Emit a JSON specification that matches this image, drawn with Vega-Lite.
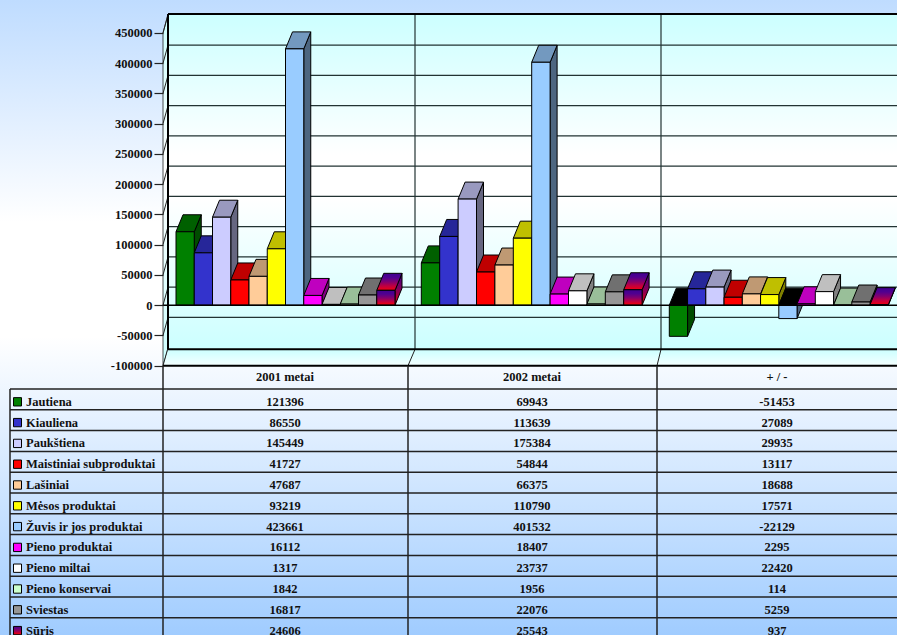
{
"$schema":"https://vega.github.io/schema/vega-lite/v6.json",
"width":897,"height":635,"padding":0,
"autosize":{"type":"none"},
"background":"#ffffff",
"view":{"stroke":null,"fill":{"gradient":"linear","x1":0,"y1":0,"x2":0,"y2":1,"stops":[{"offset":0,"color":"#bfdcff"},{"offset":0.35,"color":"#ffffff"},{"offset":0.53,"color":"#ffffff"},{"offset":1,"color":"#a0ccff"}]}},
"config":{"text":{"font":"Liberation Serif","fontWeight":"bold","fontSize":12.5,"color":"#111111"}},
"resolve":{"scale":{"fill":"independent"}},
"datasets":{
"rows":[
{"product":"Jautiena","column":"2001 metai","value":121396},{"product":"Kiauliena","column":"2001 metai","value":86550},{"product":"Paukštiena","column":"2001 metai","value":145449},{"product":"Maistiniai subproduktai","column":"2001 metai","value":41727},{"product":"Lašiniai","column":"2001 metai","value":47687},{"product":"Mėsos produktai","column":"2001 metai","value":93219},{"product":"Žuvis ir jos produktai","column":"2001 metai","value":423661},{"product":"Pieno produktai","column":"2001 metai","value":16112},{"product":"Pieno miltai","column":"2001 metai","value":1317},{"product":"Pieno konservai","column":"2001 metai","value":1842},{"product":"Sviestas","column":"2001 metai","value":16817},{"product":"Sūris","column":"2001 metai","value":24606},
{"product":"Jautiena","column":"2002 metai","value":69943},{"product":"Kiauliena","column":"2002 metai","value":113639},{"product":"Paukštiena","column":"2002 metai","value":175384},{"product":"Maistiniai subproduktai","column":"2002 metai","value":54844},{"product":"Lašiniai","column":"2002 metai","value":66375},{"product":"Mėsos produktai","column":"2002 metai","value":110790},{"product":"Žuvis ir jos produktai","column":"2002 metai","value":401532},{"product":"Pieno produktai","column":"2002 metai","value":18407},{"product":"Pieno miltai","column":"2002 metai","value":23737},{"product":"Pieno konservai","column":"2002 metai","value":1956},{"product":"Sviestas","column":"2002 metai","value":22076},{"product":"Sūris","column":"2002 metai","value":25543},
{"product":"Jautiena","column":"+ / -","value":-51453},{"product":"Kiauliena","column":"+ / -","value":27089},{"product":"Paukštiena","column":"+ / -","value":29935},{"product":"Maistiniai subproduktai","column":"+ / -","value":13117},{"product":"Lašiniai","column":"+ / -","value":18688},{"product":"Mėsos produktai","column":"+ / -","value":17571},{"product":"Žuvis ir jos produktai","column":"+ / -","value":-22129},{"product":"Pieno produktai","column":"+ / -","value":2295},{"product":"Pieno miltai","column":"+ / -","value":22420},{"product":"Pieno konservai","column":"+ / -","value":114},{"product":"Sviestas","column":"+ / -","value":5259},{"product":"Sūris","column":"+ / -","value":937}
],
"ticks":[{"tick":-100000},{"tick":-50000},{"tick":0},{"tick":50000},{"tick":100000},{"tick":150000},{"tick":200000},{"tick":250000},{"tick":300000},{"tick":350000},{"tick":400000},{"tick":450000}],
"wall":[{"t":0},{"t":1}]
},
"data":{"name":"rows"},
"transform":[
{"calculate":"indexof(['Jautiena','Kiauliena','Paukštiena','Maistiniai subproduktai','Lašiniai','Mėsos produktai','Žuvis ir jos produktai','Pieno produktai','Pieno miltai','Pieno konservai','Sviestas','Sūris'],datum.product)","as":"pi"},
{"calculate":"indexof(['2001 metai','2002 metai','+ / -'],datum.column)","as":"ci"},
{"calculate":"[18.25,18.4,18.25][datum.ci]","as":"step"},
{"calculate":"[176,421.3,669.3][datum.ci]+datum.pi*datum.step","as":"bx"},
{"calculate":"datum.bx+datum.step","as":"bx2"},
{"calculate":"0","as":"base"},
{"calculate":"datum.column+datum.product","as":"id"},
{"calculate":"(305.2-(401.8+20.8*datum.pi))/0.000605","as":"rowY"},
{"calculate":"datum.rowY+6900","as":"swT"},
{"calculate":"datum.rowY-6900","as":"swB"},
{"calculate":"(305.2-(389+20.8*datum.pi))/0.000605","as":"lineY"},
{"calculate":"[163,408,657][datum.ci]","as":"colLeft"},
{"calculate":"[285,532,777][datum.ci]","as":"colMid"},
{"calculate":"''+datum.value","as":"label"}
],
"layer":[
{"data":{"name":"wall"},"transform":[{"filter":"datum.t==0"}],
 "mark":{"type":"rect","fill":{"gradient":"linear","x1":0,"y1":0,"x2":0,"y2":1,"stops":[{"offset":0,"color":"#ccffff"},{"offset":0.42,"color":"#ffffff"},{"offset":0.55,"color":"#ffffff"},{"offset":1,"color":"#ccffff"}]}},
 "encoding":{"x":{"datum":168,"type":"quantitative","axis":null,"scale":{"domain":[0,897],"nice":false,"zero":false}},"x2":{"datum":897},
 "y":{"datum":481322,"type":"quantitative","scale":{"domain":[-545124,504463],"nice":false,"zero":false},"axis":{"values":[-100000,-50000,0,50000,100000,150000,200000,250000,300000,350000,400000,450000],"offset":-163,"domain":false,"grid":false,"title":null,"tickSize":9,"tickColor":"#222222","tickWidth":1.2,"labelPadding":2,"labelFont":"Liberation Serif","labelFontWeight":"bold","labelFontSize":12.5,"labelColor":"#111111","labelExpr":"''+datum.value","zindex":1}},"y2":{"datum":-73000}}},
{"data":{"name":"wall"},"transform":[{"calculate":"163+5*datum.t","as":"wx"},{"calculate":"-100000+27000*datum.t","as":"w0"},{"calculate":"450000+31322*datum.t","as":"w1"}],
 "mark":{"type":"area","orient":"vertical","stroke":"#222222","strokeWidth":0.8,"fill":{"gradient":"linear","x1":0,"y1":0,"x2":0,"y2":1,"stops":[{"offset":0,"color":"#ccffff"},{"offset":0.45,"color":"#ffffff"},{"offset":1,"color":"#ccffff"}]}},
 "encoding":{"x":{"field":"wx","type":"quantitative"},"y":{"field":"w0","type":"quantitative","stack":null},"y2":{"field":"w1"}}},
{"data":{"name":"wall"},"transform":[{"calculate":"-100000+27000*datum.t","as":"fy"},{"calculate":"163+5*datum.t","as":"fx"}],
 "mark":{"type":"area","orient":"horizontal","fill":{"gradient":"linear","x1":0,"y1":1,"x2":0,"y2":0,"stops":[{"offset":0,"color":"#f4ffff"},{"offset":1,"color":"#ccffff"}]}},
 "encoding":{"y":{"field":"fy","type":"quantitative"},"x":{"field":"fx","type":"quantitative","stack":null},"x2":{"datum":897}}},
{"data":{"name":"ticks"},"transform":[{"filter":"datum.tick<450000 && datum.tick>-100000"},{"calculate":"datum.tick+29752","as":"backY"}],
 "mark":{"type":"rule","stroke":"#223333","strokeWidth":1.2},
 "encoding":{"x":{"datum":168,"type":"quantitative"},"x2":{"datum":897},"y":{"field":"backY","type":"quantitative"}}},
{"data":{"name":"ticks"},"transform":[{"calculate":"[0,1]","as":"t"},{"flatten":["t"]},{"calculate":"163+5*datum.t","as":"dx"},{"calculate":"datum.tick+29752*datum.t","as":"dy"}],
 "mark":{"type":"line","stroke":"#222222","strokeWidth":1},
 "encoding":{"x":{"field":"dx","type":"quantitative"},"y":{"field":"dy","type":"quantitative"},"detail":{"field":"tick"},"order":{"field":"t"}}},
{"transform":[{"filter":"datum.pi==0 && datum.ci>0"},{"calculate":"[0,415,661][datum.ci]","as":"backX"}],
 "mark":{"type":"rule","stroke":"#223333","strokeWidth":1.2},
 "encoding":{"x":{"field":"backX","type":"quantitative"},"y":{"datum":481322,"type":"quantitative"},"y2":{"datum":-73000}}},
{"transform":[{"filter":"datum.pi==0 && datum.ci>0"},{"calculate":"[0,1]","as":"t"},{"flatten":["t"]},{"calculate":"datum.colLeft+[0,7,4][datum.ci]*datum.t","as":"dx"},{"calculate":"-100000+27000*datum.t","as":"dy"}],
 "mark":{"type":"line","stroke":"#222222","strokeWidth":1},
 "encoding":{"x":{"field":"dx","type":"quantitative"},"y":{"field":"dy","type":"quantitative"},"detail":{"field":"ci"},"order":{"field":"t"}}},
{"data":{"name":"wall"},"transform":[{"filter":"datum.t==0"}],"mark":{"type":"rule","stroke":"#000000","strokeWidth":2},
 "encoding":{"x":{"datum":168,"type":"quantitative"},"x2":{"datum":897},"y":{"datum":481322,"type":"quantitative"}}},
{"data":{"name":"wall"},"transform":[{"filter":"datum.t==0"}],"mark":{"type":"rule","stroke":"#000000","strokeWidth":2},
 "encoding":{"x":{"datum":168,"type":"quantitative"},"x2":{"datum":897},"y":{"datum":-73000,"type":"quantitative"}}},
{"data":{"name":"wall"},"transform":[{"filter":"datum.t==0"}],"mark":{"type":"rule","stroke":"#000000","strokeWidth":2},
 "encoding":{"x":{"datum":168,"type":"quantitative"},"y":{"datum":481322,"type":"quantitative"},"y2":{"datum":-73000}}},

{"transform":[{"filter":"datum.pi<11"},
 {"calculate":"[0,1]","as":"t"},{"flatten":["t"]},
 {"calculate":"datum.bx2+7*datum.t","as":"sx"},{"calculate":"max(datum.value,0)+28099*datum.t","as":"s0"},{"calculate":"min(datum.value,0)+28099*datum.t","as":"s1"}],
 "mark":{"type":"area","orient":"vertical","stroke":"#000000","strokeWidth":1},
 "encoding":{"x":{"field":"sx","type":"quantitative"},"y":{"field":"s0","type":"quantitative","stack":null},"y2":{"field":"s1"},"detail":{"field":"id"},
 "fill":{"field":"product","type":"nominal","legend":null,"scale":{"domain":["Jautiena","Kiauliena","Paukštiena","Maistiniai subproduktai","Lašiniai","Mėsos produktai","Žuvis ir jos produktai","Pieno produktai","Pieno miltai","Pieno konservai","Sviestas"],"range":["#004c00","#1a1a66","#666680","#800000","#806650","#808000","#4d6680","#800080","#808080","#668066","#4b4b4b"]}}}},

{"transform":[{"filter":"datum.pi<11"},
 {"calculate":"[0,1]","as":"t"},{"flatten":["t"]},
 {"calculate":"datum.bx+7*datum.t","as":"tx"},{"calculate":"datum.tx+datum.step","as":"tx2"},{"calculate":"max(datum.value,0)+28099*datum.t","as":"ty"}],
 "mark":{"type":"area","orient":"horizontal","stroke":"#000000","strokeWidth":1},
 "encoding":{"y":{"field":"ty","type":"quantitative"},"x":{"field":"tx","type":"quantitative","stack":null},"x2":{"field":"tx2"},"detail":{"field":"id"},
 "fill":{"condition":{"test":"datum.value<0","value":"#000000"},"field":"product","type":"nominal","legend":null,"scale":{"domain":["Jautiena","Kiauliena","Paukštiena","Maistiniai subproduktai","Lašiniai","Mėsos produktai","Žuvis ir jos produktai","Pieno produktai","Pieno miltai","Pieno konservai","Sviestas"],"range":["#006000","#262699","#9999bf","#bf0000","#bf9973","#bfbf00","#7399bf","#bf00bf","#bfbfbf","#99bf99","#707070"]}}}},

{"transform":[{"filter":"datum.pi<11"}],
 "mark":{"type":"rect","stroke":"#000000","strokeWidth":1},
 "encoding":{"x":{"field":"bx","type":"quantitative"},"x2":{"field":"bx2"},"y":{"field":"value","type":"quantitative"},"y2":{"field":"base"},
 "fill":{"field":"product","type":"nominal","legend":null,"scale":{"domain":["Jautiena","Kiauliena","Paukštiena","Maistiniai subproduktai","Lašiniai","Mėsos produktai","Žuvis ir jos produktai","Pieno produktai","Pieno miltai","Pieno konservai","Sviestas"],"range":["#008000","#3333cc","#ccccff","#ff0000","#ffcc99","#ffff00","#99ccff","#ff00ff","#ffffff","#ccffcc","#969696"]}}}},

{"transform":[{"filter":"datum.pi==11"},
 {"calculate":"[0,1]","as":"t"},{"flatten":["t"]},
 {"calculate":"datum.bx2+7*datum.t","as":"sx"},{"calculate":"datum.value+28099*datum.t","as":"s0"},{"calculate":"28099*datum.t","as":"s1"}],
 "mark":{"type":"area","orient":"vertical","stroke":"#000000","strokeWidth":1,"fill":{"gradient":"linear","x1":0,"y1":0,"x2":0,"y2":1,"stops":[{"offset":0,"color":"#400090"},{"offset":0.6,"color":"#900050"},{"offset":1,"color":"#ff0000"}]}},
 "encoding":{"x":{"field":"sx","type":"quantitative"},"y":{"field":"s0","type":"quantitative","stack":null},"y2":{"field":"s1"},"detail":{"field":"column"}}},
{"transform":[{"filter":"datum.pi==11"},
 {"calculate":"[0,1]","as":"t"},{"flatten":["t"]},
 {"calculate":"datum.bx+7*datum.t","as":"tx"},{"calculate":"datum.tx+datum.step","as":"tx2"},{"calculate":"datum.value+28099*datum.t","as":"ty"}],
 "mark":{"type":"area","orient":"horizontal","stroke":"#000000","strokeWidth":1,"fill":{"gradient":"linear","x1":0,"y1":0,"x2":0,"y2":1,"stops":[{"offset":0,"color":"#400090"},{"offset":0.25,"color":"#500090"},{"offset":0.5,"color":"#800070"},{"offset":0.75,"color":"#c00040"},{"offset":1,"color":"#f00010"}]}},
 "encoding":{"y":{"field":"ty","type":"quantitative"},"x":{"field":"tx","type":"quantitative","stack":null},"x2":{"field":"tx2"},"detail":{"field":"column"}}},
{"transform":[{"filter":"datum.pi==11"}],
 "mark":{"type":"rect","stroke":"#000000","strokeWidth":1,"fill":{"gradient":"linear","x1":0,"y1":0,"x2":0,"y2":1,"stops":[{"offset":0,"color":"#400090"},{"offset":0.25,"color":"#500090"},{"offset":0.5,"color":"#800070"},{"offset":0.75,"color":"#c00040"},{"offset":1,"color":"#ff0000"}]}},
 "encoding":{"x":{"field":"bx","type":"quantitative"},"x2":{"field":"bx2"},"y":{"field":"value","type":"quantitative"},"y2":{"field":"base"}}},

{"data":{"name":"wall"},"transform":[{"filter":"datum.t==0"}],"mark":{"type":"rule","stroke":"#000000","strokeWidth":1.4},
 "encoding":{"x":{"datum":163,"type":"quantitative"},"x2":{"datum":897},"y":{"datum":0,"type":"quantitative"}}},
{"data":{"name":"wall"},"transform":[{"filter":"datum.t==0"}],"mark":{"type":"rule","stroke":"#000000","strokeWidth":2},
 "encoding":{"x":{"datum":163,"type":"quantitative"},"x2":{"datum":897},"y":{"datum":-100000,"type":"quantitative"}}},

{"transform":[{"filter":"datum.ci==0"}],
 "mark":{"type":"rule","stroke":"#222222","strokeWidth":1.5},
 "encoding":{"x":{"datum":10,"type":"quantitative"},"x2":{"datum":897},"y":{"field":"lineY","type":"quantitative"}}},
{"transform":[{"filter":"datum.pi==0"}],
 "mark":{"type":"rule","stroke":"#222222","strokeWidth":1.5},
 "encoding":{"x":{"field":"colLeft","type":"quantitative"},"y":{"datum":-100000,"type":"quantitative"},"y2":{"datum":-545124}}},
{"transform":[{"filter":"datum.pi==0 && datum.ci==0"}],
 "mark":{"type":"rule","stroke":"#222222","strokeWidth":1.5},
 "encoding":{"x":{"datum":10,"type":"quantitative"},"y":{"field":"lineY","type":"quantitative"},"y2":{"datum":-545124}}},

{"transform":[{"filter":"datum.ci==0 && datum.pi<11"}],
 "mark":{"type":"rect","stroke":"#000000","strokeWidth":1},
 "encoding":{"x":{"datum":13.5,"type":"quantitative"},"x2":{"datum":21.5},"y":{"field":"swT","type":"quantitative"},"y2":{"field":"swB"},
 "fill":{"field":"product","type":"nominal","legend":null,"scale":{"domain":["Jautiena","Kiauliena","Paukštiena","Maistiniai subproduktai","Lašiniai","Mėsos produktai","Žuvis ir jos produktai","Pieno produktai","Pieno miltai","Pieno konservai","Sviestas"],"range":["#008000","#3333cc","#ccccff","#ff0000","#ffcc99","#ffff00","#99ccff","#ff00ff","#ffffff","#ccffcc","#969696"]}}}},
{"transform":[{"filter":"datum.ci==0 && datum.pi==11"}],
 "mark":{"type":"rect","stroke":"#000000","strokeWidth":1,"fill":{"gradient":"linear","x1":0,"y1":0,"x2":0,"y2":1,"stops":[{"offset":0,"color":"#400090"},{"offset":0.5,"color":"#900060"},{"offset":1,"color":"#ff0000"}]}},
 "encoding":{"x":{"datum":13.5,"type":"quantitative"},"x2":{"datum":21.5},"y":{"field":"swT","type":"quantitative"},"y2":{"field":"swB"}}},
{"transform":[{"filter":"datum.ci==0"}],
 "mark":{"type":"text","align":"left","baseline":"middle"},
 "encoding":{"x":{"datum":26,"type":"quantitative"},"y":{"field":"rowY","type":"quantitative"},"text":{"field":"product","type":"nominal"}}},
{"mark":{"type":"text","align":"center","baseline":"middle"},
 "encoding":{"x":{"field":"colMid","type":"quantitative"},"y":{"field":"rowY","type":"quantitative"},"text":{"field":"label","type":"nominal"}}},
{"transform":[{"filter":"datum.pi==0"}],
 "mark":{"type":"text","align":"center","baseline":"middle"},
 "encoding":{"x":{"field":"colMid","type":"quantitative"},"y":{"datum":-119000,"type":"quantitative"},"text":{"field":"column","type":"nominal"}}}
]
}
